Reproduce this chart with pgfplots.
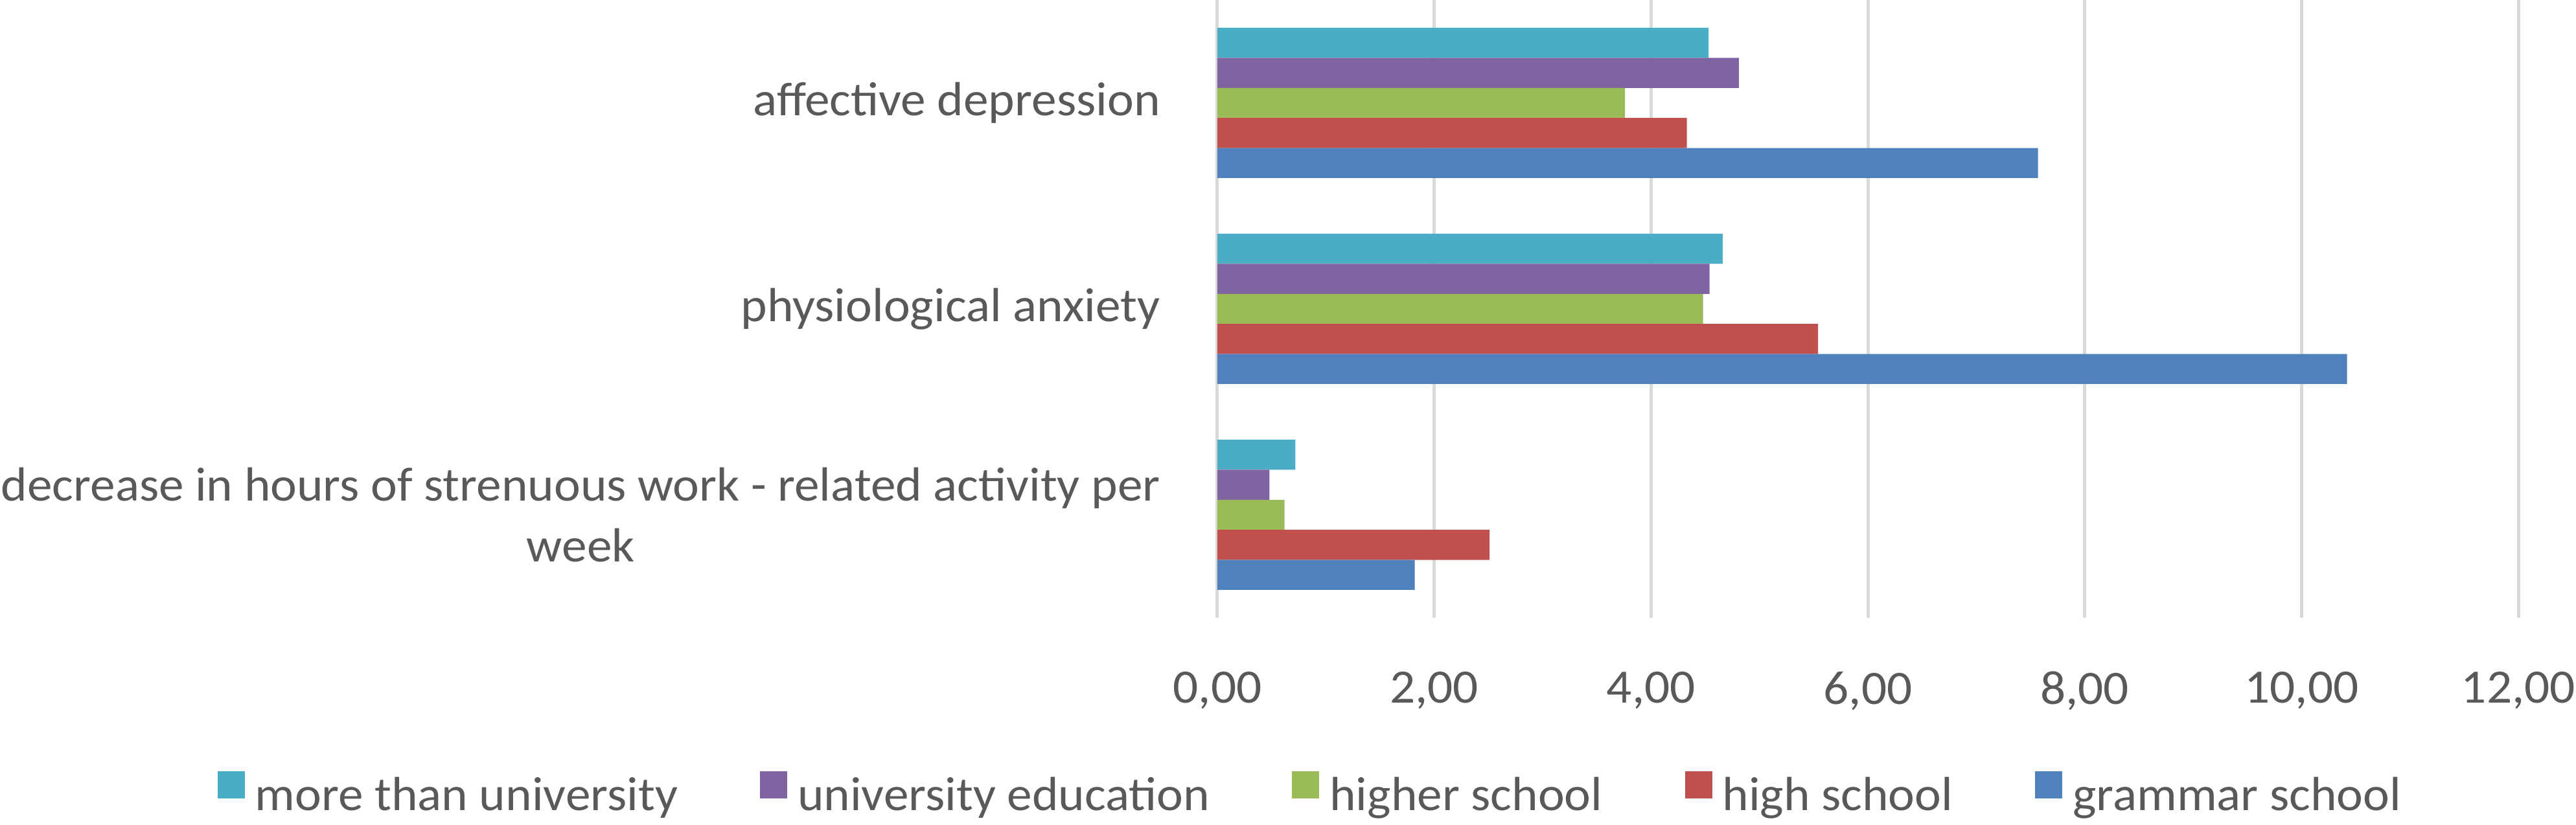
\documentclass[border=0pt]{standalone}
\usepackage{fontspec}
\setmainfont{Carlito}[FakeStretch=1.045]
\usepackage{pgfplots}
\pgfplotsset{compat=1.18}
\definecolor{cMore}{HTML}{4BACC6}
\definecolor{cUni}{HTML}{8064A2}
\definecolor{cHigher}{HTML}{9BBB59}
\definecolor{cHigh}{HTML}{C0504D}
\definecolor{cGram}{HTML}{4F81BD}
\definecolor{txt}{HTML}{595959}
\definecolor{gridc}{HTML}{D9D9D9}
\begin{document}
\begin{tikzpicture}[font=\fontsize{7.4}{9.4}\selectfont]
\begin{axis}[
  at={(0,0)}, anchor=south west,
  scale only axis, width=200.8pt, height=95.4pt,
  xbar, xmin=0, xmax=12, ymin=-0.5, ymax=2.5,
  bar width=0.1459,
  xtick={0,2,4,6,8,10,12},
  xticklabels={{0,00},{2,00},{4,00},{6,00},{8,00},{10,00},{12,00}},
  ytick={0,1,2},
  yticklabels={{decrease in hours of strenuous work - related activity per\\week},{physiological anxiety},{affective depression}},
  yticklabel style={align=center, text=txt, xshift=-5.3pt},
  xticklabel style={text=txt, yshift=-4.8pt},
  major tick length=0pt, tick style={draw=none},
  axis line style={draw=none},
  xmajorgrids, ymajorgrids=false,
  grid style={gridc, line width=0.5pt},
  legend columns=5,
  legend style={at={(0.0707,-0.288)}, anchor=center, draw=none, fill=none,
    text=txt, nodes={inner sep=0pt},
    /tikz/every odd column/.append style={column sep=1.6pt},
    /tikz/every even column/.append style={column sep=12.7pt}},
  legend image code/.code={\fill[#1] (0pt,0pt) rectangle (4.2pt,4.2pt);},
]
\addplot[fill=cMore, draw=none, bar shift=0.2918] coordinates {(0.72,0) (4.66,1) (4.53,2)};
\addlegendentry{more than university}
\addplot[fill=cUni, draw=none, bar shift=0.1459] coordinates {(0.48,0) (4.54,1) (4.81,2)};
\addlegendentry{university education}
\addplot[fill=cHigher, draw=none, bar shift=0] coordinates {(0.62,0) (4.48,1) (3.76,2)};
\addlegendentry{higher school}
\addplot[fill=cHigh, draw=none, bar shift=-0.1459] coordinates {(2.51,0) (5.54,1) (4.33,2)};
\addlegendentry{high school}
\addplot[fill=cGram, draw=none, bar shift=-0.2918] coordinates {(1.82,0) (10.42,1) (7.57,2)};
\addlegendentry{grammar school}
\end{axis}
\pgfresetboundingbox
\path (-187.9pt,-32.0pt) rectangle (209.7pt,95.4pt);
\end{tikzpicture}
\end{document}
